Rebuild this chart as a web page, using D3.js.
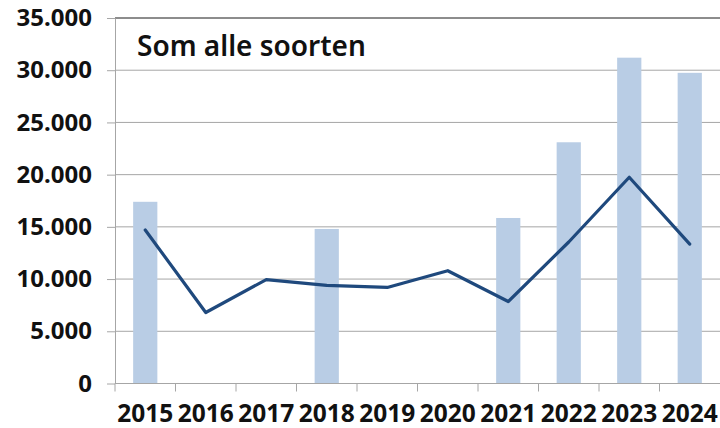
<!DOCTYPE html>
<html>
<head>
<meta charset="utf-8">
<script src="https://cdn.jsdelivr.net/npm/d3@7"></script>
<style>
  body { margin: 0; background: #fff; }
  svg { display: block; }
</style>
</head>
<body>
<div id="chart"></div>
<script>
// data
var years = ['2015', '2016', '2017', '2018', '2019', '2020', '2021', '2022', '2023', '2024'];
var barValues = [17400, null, null, 14800, null, null, 15850, 23100, 31200, 29750];
var lineValues = [14700, 6800, 9950, 9400, 9200, 10800, 7850, 13550, 19750, 13350];
var yTicks = [0, 5000, 10000, 15000, 20000, 25000, 30000, 35000];
var title = 'Som alle soorten';

var width = 720, height = 428;
var margin = {top: 18, right: 0, bottom: 44.5, left: 115};

var nl = d3.formatLocale({decimal: ',', thousands: '.', grouping: [3], currency: ['€', '']});
var fmt = nl.format(',');

var svg = d3.select('#chart').append('svg')
  .attr('width', width)
  .attr('height', height);

var x = d3.scaleBand().domain(years).range([margin.left, width - margin.right]).padding(0);
var y = d3.scaleLinear().domain([0, 35000]).range([height - margin.bottom, margin.top]);

// gridlines
svg.append('g')
  .selectAll('line')
  .data(yTicks.slice(1, -1))
  .enter().append('line')
  .attr('x1', margin.left).attr('x2', width - margin.right)
  .attr('y1', d => y(d)).attr('y2', d => y(d))
  .attr('stroke', '#a6a6a6')
  .attr('stroke-width', 1);

// top border
svg.append('line')
  .attr('x1', margin.left).attr('x2', width - margin.right)
  .attr('y1', y(35000)).attr('y2', y(35000))
  .attr('stroke', '#1a1a1a')
  .attr('stroke-width', 1);

// bars
var barW = x.bandwidth() * 0.4;
svg.append('g')
  .selectAll('rect')
  .data(years.map((yr, i) => ({year: yr, value: barValues[i]})).filter(d => d.value != null))
  .enter().append('rect')
  .attr('x', d => x(d.year) + (x.bandwidth() - barW) / 2)
  .attr('width', barW)
  .attr('y', d => y(d.value))
  .attr('height', d => y(0) - y(d.value))
  .attr('fill', '#b9cde5');

// y axis
var yAxis = svg.append('g')
  .attr('transform', `translate(${margin.left},0)`)
  .call(d3.axisLeft(y).tickValues(yTicks).tickFormat(fmt).tickSize(8).tickSizeOuter(0).tickPadding(15));
yAxis.select('.domain').attr('stroke', '#a6a6a6');
yAxis.selectAll('.tick line').attr('stroke', '#a6a6a6');
yAxis.selectAll('text')
  .attr('fill', '#111')
  .style('font-family', '"Noto Sans", sans-serif')
  .style('font-weight', 'bold')
  .style('font-size', '24px');

// x axis: ticks on band edges, labels in band centres
var xAxis = svg.append('g')
  .attr('transform', `translate(0,${y(0)})`);
xAxis.append('line')
  .attr('x1', margin.left).attr('x2', width - margin.right)
  .attr('stroke', '#a6a6a6');
xAxis.selectAll('line.edge')
  .data(years)
  .enter().append('line')
  .attr('class', 'edge')
  .attr('x1', d => x(d)).attr('x2', d => x(d))
  .attr('y1', 0).attr('y2', 8)
  .attr('stroke', '#a6a6a6');
xAxis.selectAll('text')
  .data(years)
  .enter().append('text')
  .attr('x', d => x(d) + x.bandwidth() / 2)
  .attr('y', 38)
  .attr('text-anchor', 'middle')
  .attr('fill', '#111')
  .style('font-family', '"Noto Sans", sans-serif')
  .style('font-weight', 'bold')
  .style('font-size', '24.5px')
  .text(d => d);

// line
var line = d3.line()
  .x((d, i) => x(years[i]) + x.bandwidth() / 2)
  .y(d => y(d));
svg.append('path')
  .datum(lineValues)
  .attr('d', line)
  .attr('fill', 'none')
  .attr('stroke', '#1f497d')
  .attr('stroke-width', 3.2)
  .attr('stroke-linejoin', 'round')
  .attr('stroke-linecap', 'round');

// title
svg.append('text')
  .attr('x', 137)
  .attr('y', 56)
  .attr('fill', '#111')
  .style('font-family', '"Noto Sans", sans-serif')
  .style('font-weight', 600)
  .style('font-size', '28px')
  .text(title);
</script>
</body>
</html>
